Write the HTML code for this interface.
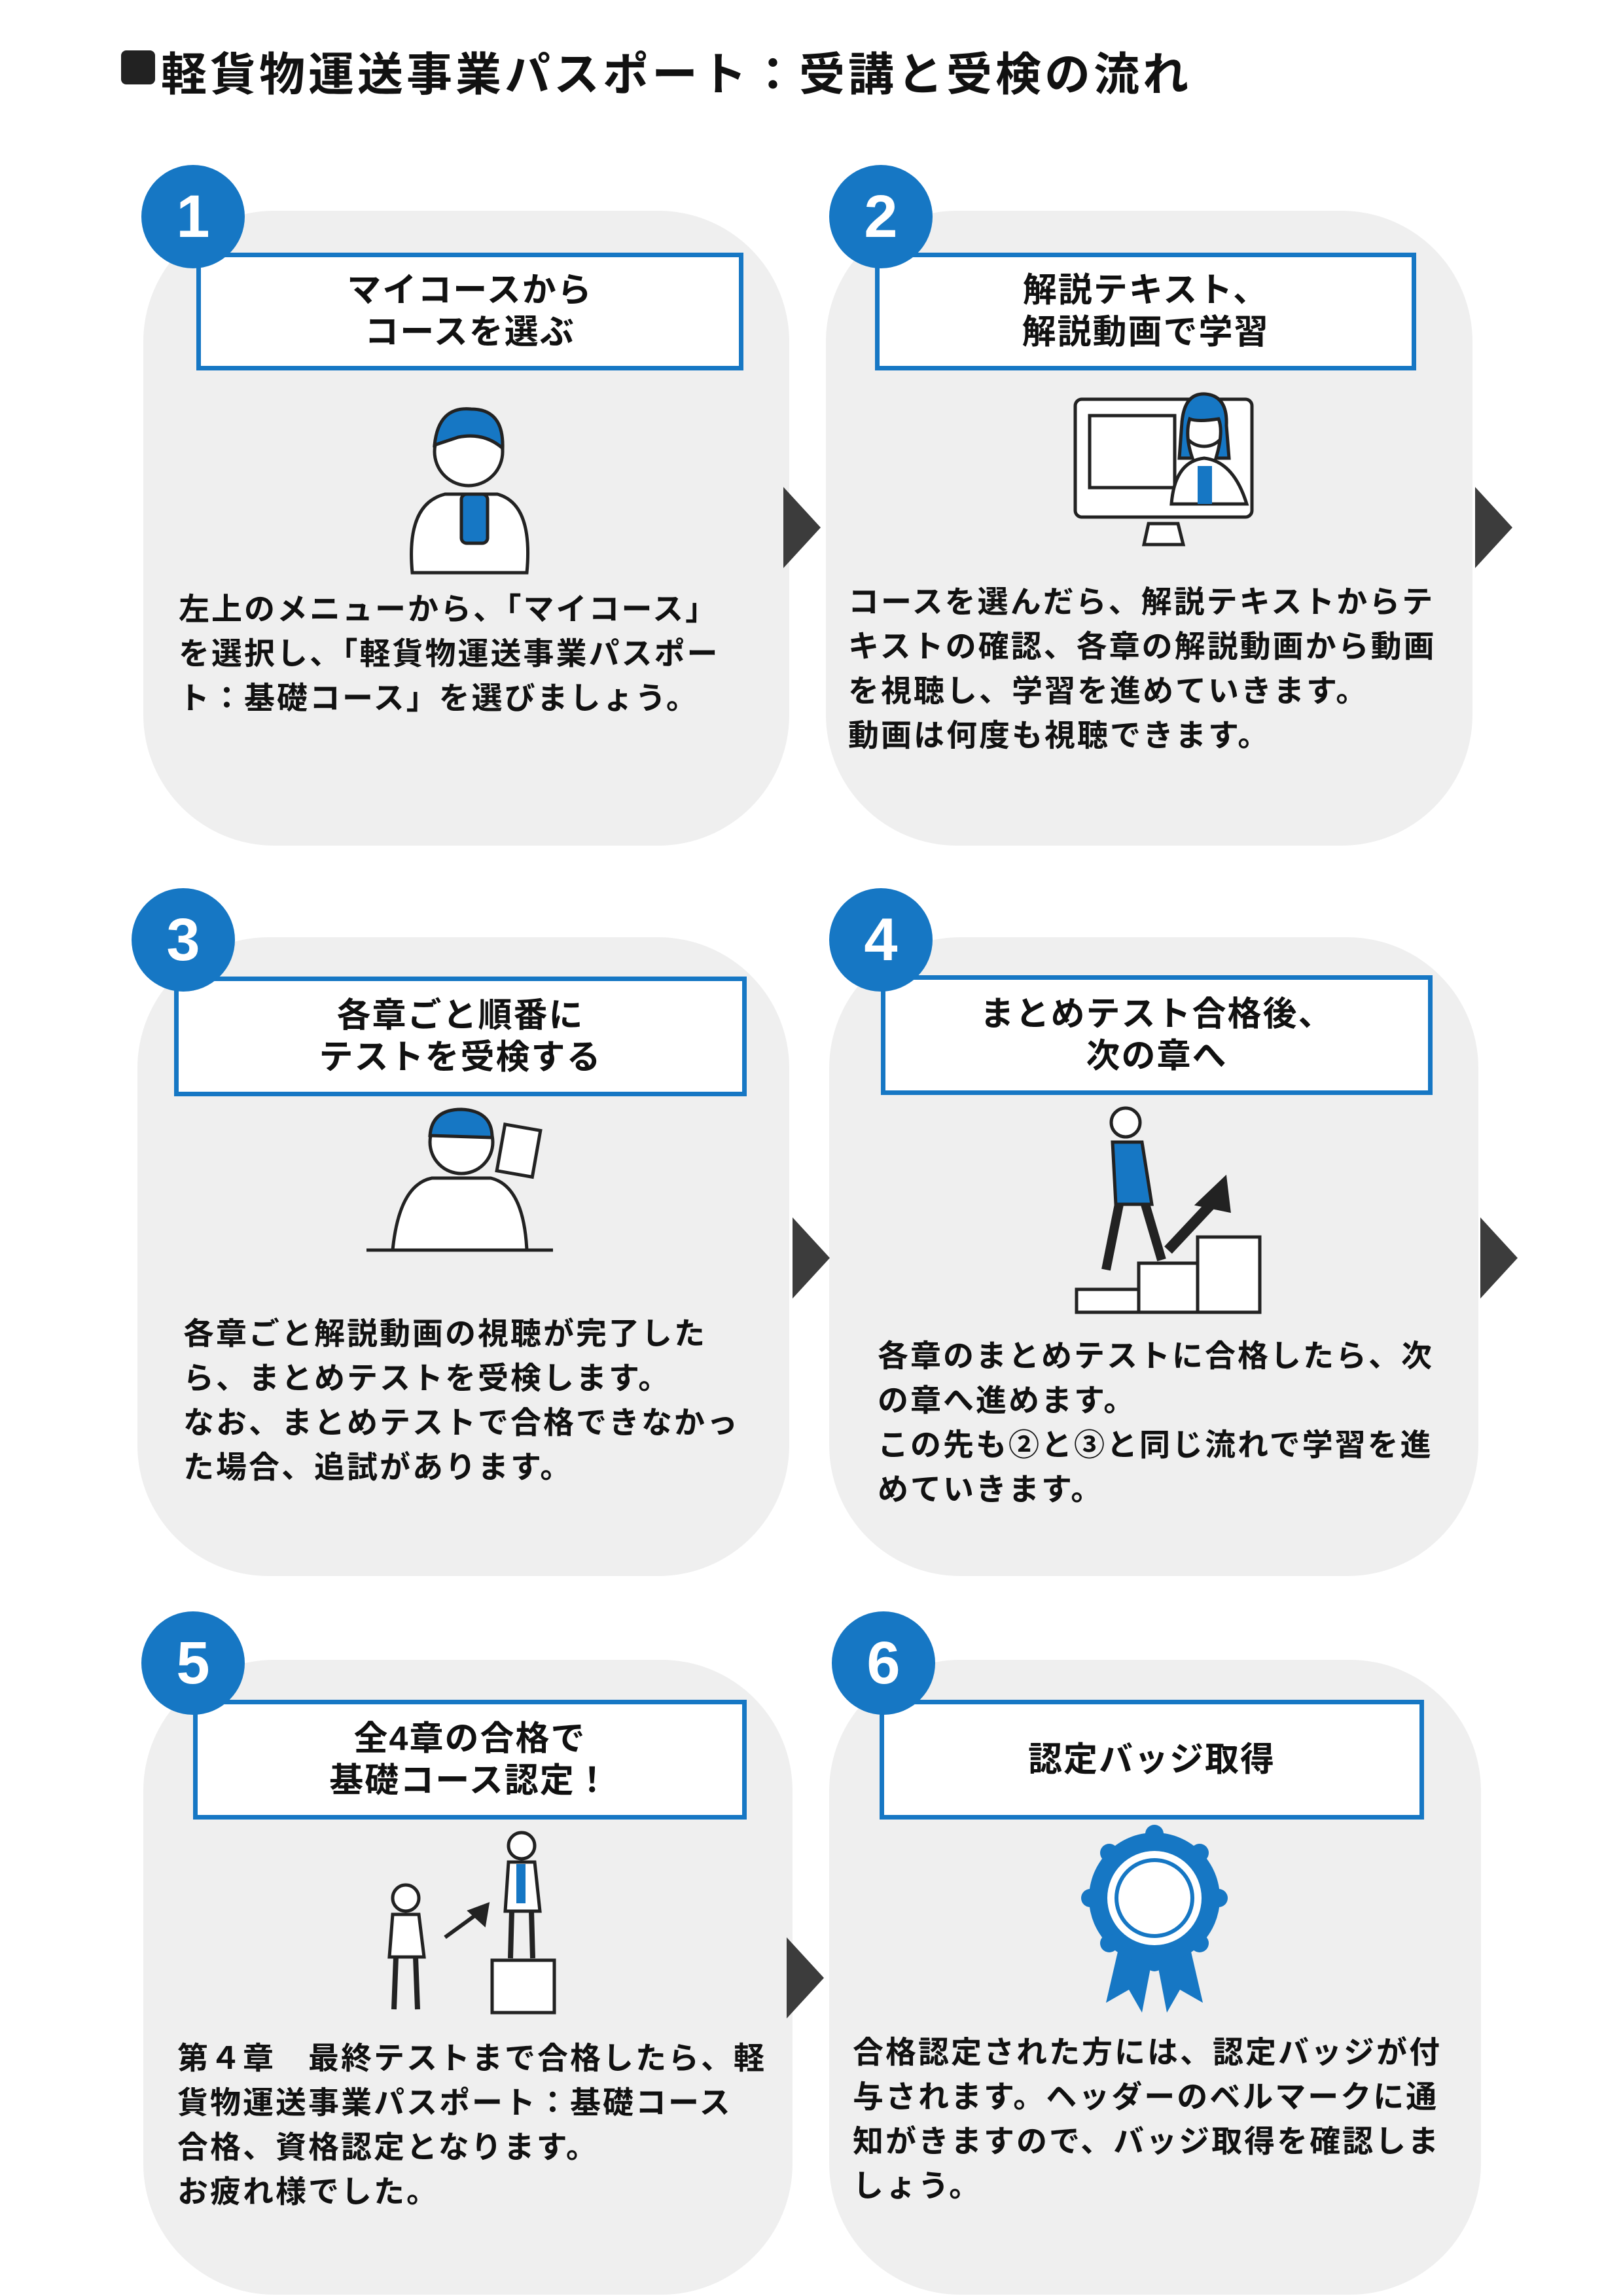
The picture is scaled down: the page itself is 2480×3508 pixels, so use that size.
<!DOCTYPE html>
<html><head><meta charset="utf-8"><style>
body{margin:0;width:2480px;height:3508px;background:#fff;position:relative;overflow:hidden;font-family:"Liberation Sans","Noto Sans CJK JP",sans-serif;color:#111}
.card{position:absolute;background:#efefef;border-radius:200px}
.num{position:absolute;width:158px;height:158px;border-radius:50%;background:#1677c4;color:#fff;font-weight:bold;font-size:92px;line-height:158px;text-align:center}
.tb{position:absolute;background:#fff;border:7px solid #1677c4;box-sizing:border-box;display:flex;align-items:center;justify-content:center;text-align:center;font-weight:bold;font-size:52px;line-height:64px;letter-spacing:2px}
.body{position:absolute;font-weight:bold;font-size:47px;line-height:68px;white-space:nowrap;letter-spacing:3px}
.title{position:absolute;left:246px;top:58px;font-weight:bold;font-size:70px;letter-spacing:5px;white-space:nowrap}
.sq{position:absolute;left:185px;top:77px;width:52px;height:52px;background:#222;border-radius:8px}
svg{position:absolute;left:0;top:0}
</style></head><body>
<div class="sq"></div>
<div class="title">軽貨物運送事業パスポート：受講と受検の流れ</div>

<div class="card" style="left:219px;top:322px;width:987px;height:970px"></div>
<div class="card" style="left:1262px;top:322px;width:988px;height:970px"></div>
<div class="card" style="left:210px;top:1432px;width:996px;height:976px"></div>
<div class="card" style="left:1267px;top:1432px;width:992px;height:976px"></div>
<div class="card" style="left:219px;top:2536px;width:992px;height:970px"></div>
<div class="card" style="left:1267px;top:2536px;width:996px;height:970px"></div>

<div class="tb" style="left:300px;top:386px;width:836px;height:180px">マイコースから<br>コースを選ぶ</div>
<div class="tb" style="left:1337px;top:386px;width:827px;height:180px">解説テキスト、<br>解説動画で学習</div>
<div class="tb" style="left:266px;top:1492px;width:875px;height:183px">各章ごと順番に<br>テストを受検する</div>
<div class="tb" style="left:1346px;top:1490px;width:843px;height:183px">まとめテスト合格後、<br>次の章へ</div>
<div class="tb" style="left:295px;top:2597px;width:846px;height:183px">全4章の合格で<br>基礎コース認定！</div>
<div class="tb" style="left:1344px;top:2597px;width:832px;height:183px">認定バッジ取得</div>

<div class="num" style="left:216px;top:252px">1</div>
<div class="num" style="left:1267px;top:252px">2</div>
<div class="num" style="left:201px;top:1357px">3</div>
<div class="num" style="left:1267px;top:1357px">4</div>
<div class="num" style="left:216px;top:2462px">5</div>
<div class="num" style="left:1271px;top:2462px">6</div>

<div class="body" style="left:273px;top:897px">左上のメニューから、「マイコース」<br>を選択し、「軽貨物運送事業パスポー<br>ト：基礎コース」を選びましょう。</div>
<div class="body" style="left:1296px;top:886px">コースを選んだら、解説テキストからテ<br>キストの確認、各章の解説動画から動画<br>を視聴し、学習を進めていきます。<br>動画は何度も視聴できます。</div>
<div class="body" style="left:280px;top:2004px">各章ごと解説動画の視聴が完了した<br>ら、まとめテストを受検します。<br>なお、まとめテストで合格できなかっ<br>た場合、追試があります。</div>
<div class="body" style="left:1341px;top:2038px">各章のまとめテストに合格したら、次<br>の章へ進めます。<br>この先も②と③と同じ流れで学習を進<br>めていきます。</div>
<div class="body" style="left:271px;top:3111px">第４章　最終テストまで合格したら、軽<br>貨物運送事業パスポート：基礎コース<br>合格、資格認定となります。<br>お疲れ様でした。</div>
<div class="body" style="left:1303px;top:3102px">合格認定された方には、認定バッジが付<br>与されます。ヘッダーのベルマークに通<br>知がきますので、バッジ取得を確認しま<br>しょう。</div>

<svg width="2480" height="3508" viewBox="0 0 2480 3508">
<g fill="#3c3c3c">
<polygon points="1197,744 1254,806 1197,868"/>
<polygon points="2254,744 2311,806 2254,868"/>
<polygon points="1211,1860 1268,1922 1211,1984"/>
<polygon points="2262,1860 2319,1922 2262,1984"/>
<polygon points="1202,2960 1259,3022 1202,3084"/>
</g>
<g stroke="#222" stroke-width="5" fill="#fff">
<path d="M630,875 Q620,770 680,755 L760,755 Q815,770 805,875 Z"/>
<circle cx="716" cy="690" r="52"/>
<path d="M664,680 Q670,620 720,625 Q770,625 768,685 Q740,660 700,668 Z" fill="#1677c4"/>
<rect x="705" y="755" width="40" height="75" rx="8" fill="#1677c4"/>
<rect x="1643" y="610" width="270" height="180" rx="10"/>
<rect x="1665" y="635" width="130" height="110" fill="#fff"/>
<path d="M1755,800 L1800,800 L1808,832 L1748,832 Z"/>
<circle cx="1840" cy="648" r="34"/>
<path d="M1806,645 Q1810,600 1842,602 Q1876,605 1874,650 L1878,700 L1858,700 Q1870,660 1862,640 Q1830,645 1818,640 Q1810,665 1822,700 L1802,700 Z" fill="#1677c4"/>
<path d="M1790,770 Q1795,705 1840,700 Q1885,705 1905,770 Z"/>
<rect x="1830" y="712" width="22" height="58" fill="#1677c4" stroke="none"/>
<circle cx="705" cy="1745" r="48"/>
<path d="M657,1735 Q660,1695 705,1695 Q752,1697 752,1738 Z" fill="#1677c4"/>
<path d="M600,1910 Q610,1810 660,1800 L750,1800 Q800,1812 805,1910 Z"/>
<line x1="560" y1="1910" x2="845" y2="1910"/>
<rect x="765" y="1722" width="55" height="72" transform="rotate(10 792 1758)"/>
<rect x="1645" y="1970" width="95" height="35"/>
<rect x="1740" y="1930" width="90" height="75"/>
<rect x="1830" y="1890" width="95" height="115"/>
<circle cx="1720" cy="1715" r="22"/>
<path d="M1700,1745 L1745,1745 L1760,1840 L1705,1840 Z" fill="#1677c4"/>
<path d="M1710,1840 L1690,1940 M1750,1840 L1775,1925" stroke-width="14"/>
<path d="M1785,1910 L1860,1830" stroke-width="16" fill="none"/>
<polygon points="1872,1800 1878,1850 1830,1840" fill="#222"/>
<rect x="752" y="2995" width="95" height="80"/>
<circle cx="620" cy="2900" r="20"/>
<path d="M600,2925 L640,2925 L648,2990 L595,2990 Z"/>
<path d="M605,2990 L602,3070 M635,2990 L638,3070" stroke-width="8"/>
<circle cx="797" cy="2820" r="20"/>
<path d="M777,2845 L817,2845 L825,2920 L772,2920 Z"/>
<rect x="789" y="2848" width="14" height="60" fill="#1677c4" stroke="none"/>
<path d="M782,2920 L780,2992 M812,2920 L814,2992" stroke-width="8"/>
<path d="M680,2960 L735,2920" stroke-width="6"/>
<polygon points="745,2910 740,2940 718,2920" fill="#222"/>
</g>
<g>
<polygon points="1720,2930 1690,3060 1725,3040 1745,3075 1768,2955" fill="#1677c4"/>
<polygon points="1808,2930 1838,3060 1803,3040 1783,3075 1760,2955" fill="#1677c4"/>
<circle cx="1764" cy="2900" r="100" fill="#1677c4"/>
<g fill="#1677c4">
<circle cx="1764" cy="2802" r="14"/><circle cx="1833" cy="2831" r="14"/><circle cx="1862" cy="2900" r="14"/><circle cx="1833" cy="2969" r="14"/><circle cx="1764" cy="2998" r="14"/><circle cx="1695" cy="2969" r="14"/><circle cx="1666" cy="2900" r="14"/><circle cx="1695" cy="2831" r="14"/>
</g>
<circle cx="1764" cy="2900" r="72" fill="#fff"/>
<circle cx="1764" cy="2900" r="58" fill="#fff" stroke="#1677c4" stroke-width="6"/>
</g>
</svg>
</body></html>
